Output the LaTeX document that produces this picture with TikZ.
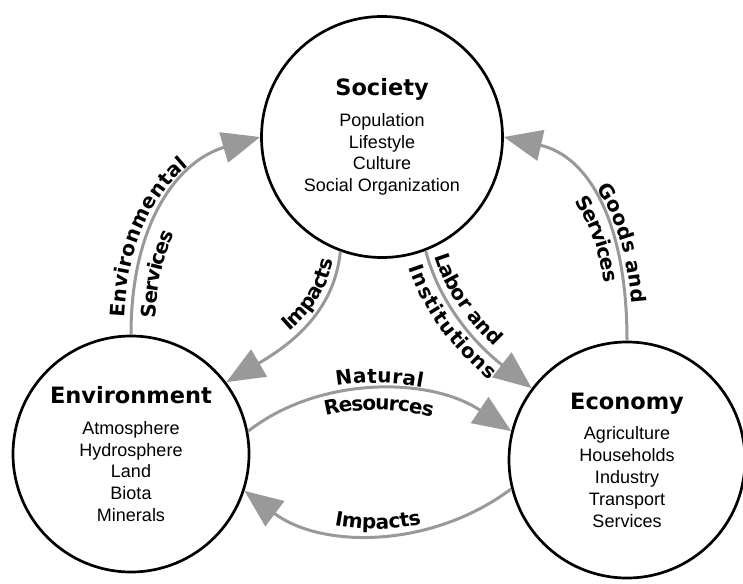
\documentclass[tikz,border=0pt]{standalone}
\usepackage{fontspec}
\setmainfont{Liberation Sans}
\newfontfamily\heavyfont{DejaVu Sans}
\usetikzlibrary{arrows.meta,decorations.text}
\definecolor{flowgray}{gray}{0.6}
\newcommand{\hubtitle}{\heavyfont\bfseries\fontsize{22.5}{24}\selectfont}
\newcommand{\arcfont}{\heavyfont\bfseries\fontsize{20}{20}\selectfont}

\begin{document}
\begin{tikzpicture}[
  x=1pt, y=-1pt,
  font=\fontsize{18}{21.8}\selectfont,
  hub/.style={circle, draw, line width=2.7pt, align=center, inner sep=0pt},
  flow/.style={draw=flowgray, line width=3pt, -{Triangle[length=38pt,width=31pt]}},
  lbl/.style 2 args={decorate, decoration={text along path, text={|\arcfont|#1}, #2}}
]
  \useasboundingbox (0,0) rectangle (743,583);

  % the three spheres
  \node[hub, minimum size=241pt] (soc) at (382,137)
    {{\hubtitle Society}\\[9pt] Population\\ Lifestyle\\ Culture\\ Social Organization};
  \node[hub, minimum size=236pt] (env) at (131,454)
    {{\hubtitle Environment}\\[9pt] Atmosphere\\ Hydrosphere\\ Land\\ Biota\\ Minerals};
  \node[hub, minimum size=236pt] (con) at (627,460)
    {{\hubtitle Economy}\\[9pt] Agriculture\\ Households\\ Industry\\ Transport\\ Services};

  % flows
  \draw[flow] (env.north) .. controls +(0,-115) and +(-80,23) .. (soc.west);
  \draw[flow] (soc.250) .. controls +(-6,60) and +(65,-38) .. (env.37);
  \draw[flow] (soc.291) .. controls +(13,50) and +(-60,-47) .. (con.143);
  \draw[flow] (con.north) .. controls +(0,-120) and +(84,19) .. (soc.east);
  \draw[flow] (env.11) .. controls +(70,-55) and +(-82,-55) .. (con.166);
  \draw[flow] (con.194) .. controls +(-80,60) and +(77,58) .. (env.342);

  % labels along the flows
  \path[lbl={Environmental}{raise=7pt, text align={left, left indent=17pt}}]
    (env.north) .. controls +(0,-115) and +(-80,23) .. (soc.west);
  \path[lbl={Services}{raise=-24pt, text align={left, left indent=18pt}}]
    (env.north) .. controls +(0,-115) and +(-80,23) .. (soc.west);
  \path[lbl={Impacts}{raise=6pt, text align={right, right indent=10pt}}]
    (env.37) .. controls +(65,-38) and +(-6,60) .. (soc.250);
  \path[lbl={Labor and}{raise=7pt, text align={left, left indent=8pt}}]
    (soc.291) .. controls +(13,50) and +(-60,-47) .. (con.143);
  \path[lbl={Institutions}{raise=-21pt, text align={left, left indent=10pt}}]
    (soc.291) .. controls +(13,50) and +(-60,-47) .. (con.143);
  \path[lbl={Goods and}{raise=6pt, text align={left, left indent=105pt}}]
    (soc.east) .. controls +(84,19) and +(0,-120) .. (con.north);
  \path[lbl={Services}{raise=-19pt, text align={left, left indent=105pt}}]
    (soc.east) .. controls +(84,19) and +(0,-120) .. (con.north);
  \path[lbl={Natural}{raise=7pt, text align=center}]
    (env.11) .. controls +(70,-55) and +(-82,-55) .. (con.166);
  \path[lbl={Resources}{raise=-20pt, text align=center}]
    (env.11) .. controls +(70,-55) and +(-82,-55) .. (con.166);
  \path[lbl={Impacts}{raise=5pt, text align=center}]
    (env.342) .. controls +(77,58) and +(-80,60) .. (con.194);
\end{tikzpicture}
\end{document}
